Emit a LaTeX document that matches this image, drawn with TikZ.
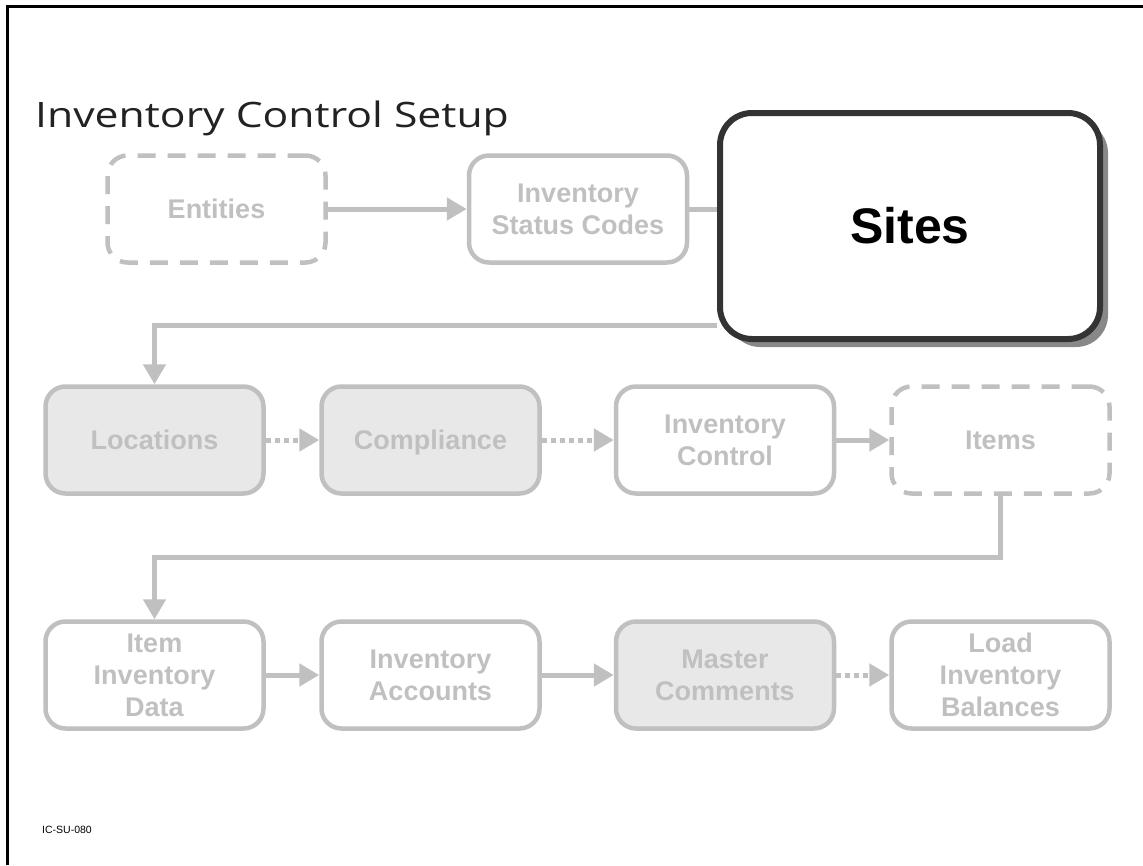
\documentclass[tikz,border=0pt]{standalone}
\usepackage{fontspec}
\setmainfont{Liberation Sans}
\newfontfamily\titlefont[FakeStretch=1.22]{Open Sans}
\usetikzlibrary{arrows.meta,shadows}
\definecolor{boxgray}{HTML}{C0C0C0}
\definecolor{fillgray}{HTML}{E8E8E8}
\definecolor{sitesedge}{HTML}{333333}
\definecolor{shadowgray}{HTML}{888888}
\definecolor{titlegray}{HTML}{222222}
% label without descender depth, so single words sit on a common centre line
\newcommand{\nodepth}[1]{\raisebox{0pt}[\height][0pt]{#1}}
\begin{document}
\begin{tikzpicture}[x=1pt,y=-1pt,
  stepbox/.style={draw=boxgray, line width=4.5pt, rounded corners=20pt,
    minimum width=218pt, minimum height=107pt, text=boxgray,
    font=\bfseries\fontsize{27}{32}\selectfont, align=center, inner sep=0pt},
  shadedbox/.style={stepbox, fill=fillgray},
  optbox/.style={stepbox, dash pattern=on 18pt off 12pt},
  sitesbox/.style={draw=sitesedge, fill=white, line width=6pt, rounded corners=32pt,
    minimum width=380pt, minimum height=226pt, text=black,
    font=\bfseries\fontsize{50}{56}\selectfont, inner sep=0pt,
    general shadow={fill=shadowgray, draw=none, shadow xshift=8pt, shadow yshift=-8pt}},
  conn/.style={draw=boxgray, line width=5pt, -{Triangle[length=20pt,width=22pt]}},
  dotconn/.style={conn, dash pattern=on 5pt off 4pt},
  plainline/.style={draw=boxgray, line width=5pt}
]
\useasboundingbox (0,0) rectangle (1143,865);

% page frame
\draw[line width=3pt] (7.5,865) -- (7.5,6.5) -- (1143,6.5);

% heading and slide code
\node[anchor=base west, inner sep=0pt, text=titlegray,
  font=\titlefont\fontsize{35}{40}\selectfont] (title) at (35,127) {Inventory Control Setup};
\node[anchor=base west, inner sep=0pt, font=\fontsize{10.5}{12}\selectfont] (code) at (42,833) {IC-SU-080};

% first row
\node[optbox] (ent) at (216.5,209) {Entities};
\node[stepbox] (stat) at (578,209) {Inventory\\Status Codes};

% second row
\node[shadedbox] (loc) at (154.5,440) {Locations};
\node[shadedbox] (comp) at (430.5,440) {\nodepth{Compliance}};
\node[stepbox] (ictl) at (725,440) {Inventory\\Control};
\node[optbox] (items) at (1000.5,440) {Items};

% third row
\node[stepbox] (iid) at (154.5,675) {Item\\Inventory\\Data};
\node[stepbox] (iacc) at (430.5,675) {Inventory\\Accounts};
\node[shadedbox] (mcom) at (725,675) {Master\\Comments};
\node[stepbox] (load) at (1000.5,675) {Load\\Inventory\\Balances};

% highlighted step
\node[sitesbox] (sites) at (910,226) {Sites};

% connectors
\coordinate (bendA) at (154.5,325);
\coordinate (bendB) at (154.5,557);
\draw[conn] (ent) -- (stat);
\draw[plainline] (stat.east) -- (stat.east -| sites.west);
\draw[conn] (sites.west |- bendA) -- (bendA) -- (loc.north);
\draw[dotconn] (loc) -- (comp);
\draw[dotconn] (comp) -- (ictl);
\draw[conn] (ictl) -- (items);
\draw[conn] (items.south) |- (bendB) -- (iid.north);
\draw[conn] (iid) -- (iacc);
\draw[conn] (iacc) -- (mcom);
\draw[dotconn] (mcom) -- (load);
\end{tikzpicture}
\end{document}
